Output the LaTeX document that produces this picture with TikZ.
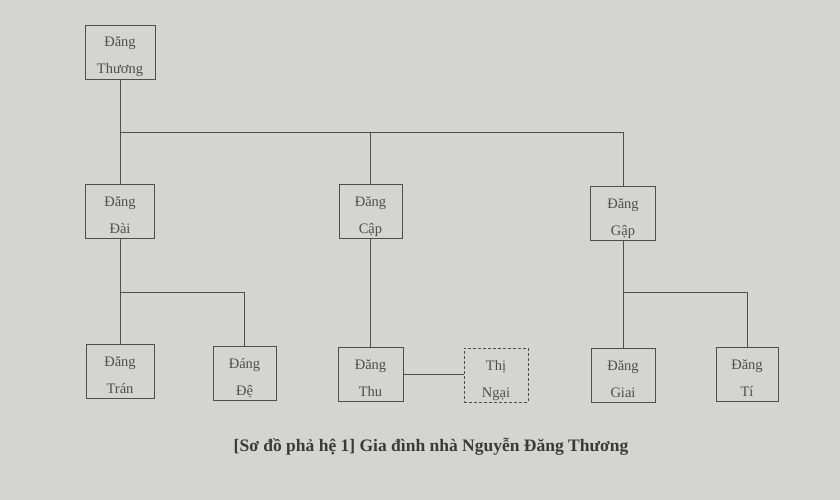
\documentclass[tikz,border=0pt]{standalone}
\usepackage{fontspec}
\setmainfont{Liberation Serif}
\definecolor{paper}{RGB}{212,213,210}
\definecolor{ink}{RGB}{78,78,76}
\definecolor{caption}{RGB}{58,58,56}
\newcommand\who[2]{\rule{0pt}{22pt}#1\\#2\rule[-5pt]{0pt}{5pt}}
\tikzset{
  person/.style={draw=ink, line width=0.7pt, minimum width=64pt, minimum height=54pt,
    inner sep=0pt, align=center, text=ink, font=\fontsize{14.5}{27}\selectfont},
  link/.style={draw=ink, line width=0.7pt}
}
\begin{document}
\begin{tikzpicture}[x=1pt, y=-1pt]
    \fill[paper] (0,0) rectangle (840,500);
    \useasboundingbox (0,0) rectangle (840,500);
    % first generation
    \node[person, minimum width=70pt] (thuong) at (120,52) {\who{Đăng}{Thương}};
    % second generation
    \node[person, minimum width=69pt] (dai) at (120,211.5) {\who{Đăng}{Đài}};
    \node[person, minimum width=63pt] (cap) at (370.5,211.5) {\who{Đăng}{Cập}};
    \node[person, minimum width=65pt] (gap) at (623,213.5) {\who{Đăng}{Gập}};
    % third generation
    \node[person, minimum width=68pt] (tran) at (120,371.5) {\who{Đăng}{Trán}};
    \node[person, minimum width=63pt] (de) at (244.5,373) {\who{Đáng}{Đệ}};
    \node[person, minimum width=65pt] (thu) at (370.5,374.5) {\who{Đăng}{Thu}};
    \node[person, densely dashed] (ngai) at (496,375) {\who{Thị}{Ngại}};
    \node[person] (giai) at (623,375.5) {\who{Đăng}{Giai}};
    \node[person, minimum width=62pt] (ti) at (747,374) {\who{Đăng}{Tí}};
    \coordinate (top bar) at (0,132);
    \coordinate (mid bar) at (0,292);
    \draw[link] (thuong.south) -- (dai.north);
    \draw[link] (dai.north |- top bar) -| (gap.north);
    \draw[link] (cap.north |- top bar) -- (cap.north);
    \draw[link] (dai.south) -- (tran.north);
    \draw[link] (tran.north |- mid bar) -| (de.north);
    \draw[link] (cap.south) -- (thu.north);
    \draw[link] (thu.east) -- (thu.east -| ngai.west);
    \draw[link] (gap.south) -- (giai.north);
    \draw[link] (giai.north |- mid bar) -| (ti.north);
    \node[text=caption, font=\bfseries\fontsize{17.5}{20}\selectfont] (title) at (431,447)
        {[Sơ đồ phả hệ 1] Gia đình nhà Nguyễn Đăng Thương};
\end{tikzpicture}
\end{document}
